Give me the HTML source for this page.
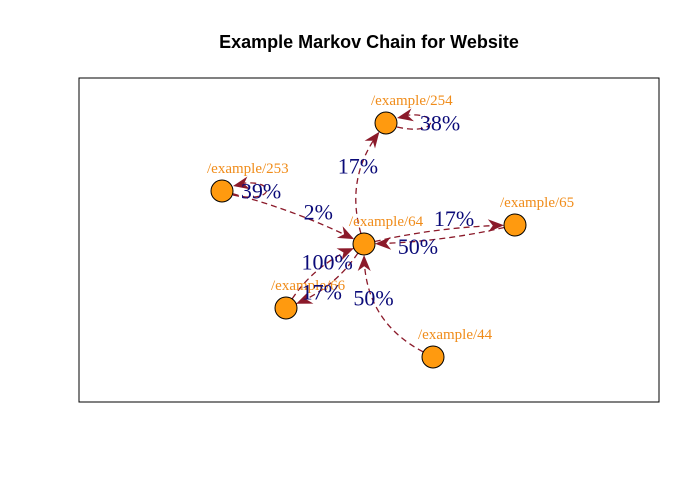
<!DOCTYPE html>
<html><head><meta charset="utf-8"><style>
body{margin:0;background:#fff}
svg{display:block}
</style></head><body>
<svg id="chart" width="700" height="500">
<rect x="0" y="0" width="700" height="500" fill="#fff"/>
<text x="369" y="48" text-anchor="middle" font-family="Liberation Sans, sans-serif" font-weight="bold" font-size="18">Example Markov Chain for Website</text>
<rect x="79" y="78" width="580" height="324" fill="none" stroke="#000" stroke-width="1"/>
<g id="edges"></g><g id="nodes"></g><g id="labels"></g>
</svg>
<script>
const nodeNames = ["/example/254","/example/253","/example/64","/example/65","/example/66","/example/44"];
const nodeX = [386,222,364,515,286,433];
const nodeY = [123,191,244,225,308,357];
const edgeFrom = [1,0,1,2,2,3,4,2,5];
const edgeTo   = [1,0,2,0,3,2,2,4,2];
const edgeProb = ["39%","38%","2%","17%","17%","50%","100%","17%","50%"];
// styling: bend of each edge and label nudge
const edgeCurve = [0,0,-0.05,-0.25,-0.05,-0.05,-0.15,-0.15,-0.3];
const labelDx = [39,54,24,-2,15,-22,7,-8,-8];
const labelDy = [0,0,-2,-15,-12,8,-8,10,-13];

const NS="http://www.w3.org/2000/svg";
const R=11, col="#8b1a2a";
const gE=document.getElementById('edges'), gN=document.getElementById('nodes'), gL=document.getElementById('labels');
function mk(t,a,p){const e=document.createElementNS(NS,t);for(const k in a)e.setAttribute(k,a[k]);p.appendChild(e);return e;}
function arrow(x,y,dx,dy){const l=Math.hypot(dx,dy);dx/=l;dy/=l;const L=16,W=6.5;
 const bx=x-dx*L,by=y-dy*L;
 return `${x},${y} ${bx-dy*W},${by+dx*W} ${x-dx*L*0.7},${y-dy*L*0.7} ${bx+dy*W},${by-dx*W}`;}
for(let i=0;i<edgeFrom.length;i++){
 const a=edgeFrom[i],b=edgeTo[i];let lx,ly;
 if(a===b){
  const x=nodeX[a],y=nodeY[a];
  const p=mk('path',{d:`M${x+R},${y+4} C${x+55},${y+14} ${x+55},${y-14} ${x+16},${y-7}`,fill:'none',stroke:col,'stroke-width':1.3,'stroke-dasharray':'6,4'},gE);
  
  
  const h=mk('polygon',{points:arrow(x+R,y-5,-1,0.2),fill:col},gE);
  
  
  lx=x;ly=y;
 } else {
  const x0=nodeX[a],y0=nodeY[a],x1=nodeX[b],y1=nodeY[b];
  const dx=x1-x0,dy=y1-y0;
  const cx=(x0+x1)/2-dy*edgeCurve[i],cy=(y0+y1)/2+dx*edgeCurve[i];
  let ex=x1-cx,ey=y1-cy;const el=Math.hypot(ex,ey);
  const tx=x1-ex/el*R,ty=y1-ey/el*R;
  let sx=cx-x0,sy=cy-y0;const sl=Math.hypot(sx,sy);
  const fx=x0+sx/sl*R,fy=y0+sy/sl*R;
  const p=mk('path',{d:`M${fx},${fy} Q${cx},${cy} ${tx},${ty}`,fill:'none',stroke:col,'stroke-width':1.3,'stroke-dasharray':'6,4'},gE);
  
  
  const h=mk('polygon',{points:arrow(tx,ty,ex,ey),fill:col},gE);
  
  
  lx=0.25*x0+0.5*cx+0.25*x1;ly=0.25*y0+0.5*cy+0.25*y1;
 }
 const t=mk('text',{x:lx+labelDx[i],y:ly+labelDy[i],'text-anchor':'middle','dominant-baseline':'central','font-family':'Liberation Serif, serif','font-size':22,fill:'#0a0a78'},gL);
 t.textContent=edgeProb[i];
 
 
}
for(let i=0;i<nodeNames.length;i++){
 const c=mk('circle',{cx:nodeX[i],cy:nodeY[i],r:R,fill:'#ff9a0f',stroke:'#000','stroke-width':1},gN);
 
 
 const t=mk('text',{x:nodeX[i]-15,y:nodeY[i]-18,'font-family':'Liberation Serif, serif','font-size':15,fill:'#f08c1a'},gN);
 t.textContent=nodeNames[i];
 
 
}
</script>
</body></html>
